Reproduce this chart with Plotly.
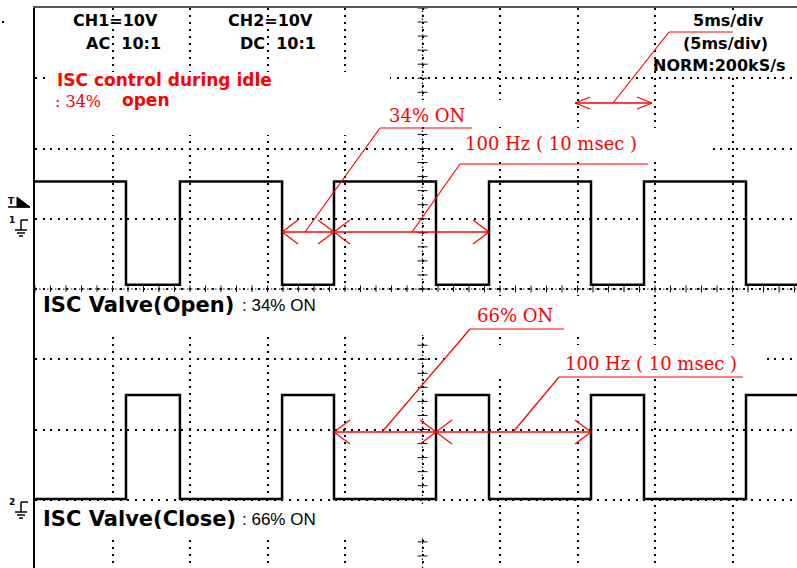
import plotly.graph_objects as go

# ---------------- data read from the screen ----------------
# edge instants (ms) shared by both channels (CH2 is the inverse of CH1)
edge_times_ms = [5.87, 9.35, 15.94, 19.29, 25.87, 29.29, 35.87, 39.29, 45.87]
t_start_ms = 0.0
t_end_ms = 49.16
# levels in screen divisions (0 = centre graticule line)
ch1_high_div = 1.53
ch1_low_div = 0.06
ch2_high_div = -1.51
ch2_low_div = -2.99

# annotation texts
ch_info = ["CH1=10V", "AC  10:1", "CH2=10V", "DC  10:1"]
timebase_info = ["5ms/div", "(5ms/div)", "NORM:200kS/s"]
duty_labels = ["34% ON", "66% ON"]
freq_label = "100 Hz ( 10 msec )"

# ---------------- screen geometry ----------------
W, H = 797, 568
L, T = 35, 8
PXX = 77.5      # px per horizontal division
MS_DIV = 5.0    # ms per division
PXY = 70.25     # px per vertical division
YC = 289        # px of centre line


def dx(px):
    return (px - L) / PXX * MS_DIV


def dy(py):
    return (YC - py) / PXY


def pxp(px):
    return (px - L) / (W - L)


def pyp(py):
    return (H - py) / (H - T)


# ---------------- traces ----------------
t = [t_start_ms] + edge_times_ms + [t_end_ms]
ch1 = []
ch2 = []
for i in range(len(edge_times_ms) + 1):
    hi = (i % 2 == 0)
    ch1.append(ch1_high_div if hi else ch1_low_div)
    ch2.append(ch2_low_div if hi else ch2_high_div)
ch1.append(ch1[-1])
ch2.append(ch2[-1])

fig = go.Figure()
fig.add_trace(go.Scatter(x=t, y=ch1, mode="lines", line=dict(color="black", width=2.5, shape="hv"),
                         hoverinfo="skip", showlegend=False))
fig.add_trace(go.Scatter(x=t, y=ch2, mode="lines", line=dict(color="black", width=2.5, shape="hv"),
                         hoverinfo="skip", showlegend=False))

shapes = []

# centre graticule tick marks (drawn in the 'between' layer)
path = ""
hx = 3.5 / PXY
k = 0
while k * 1.0 <= t_end_ms + 1e-9:
    path += f"M{k*1.0},{-hx} L{k*1.0},{hx} "
    k += 1
hy = 5 * MS_DIV / PXX
v = -4.0
while v <= 4.0 + 1e-9:
    path += f"M{25-hy},{v:.3f} L{25+hy},{v:.3f} "
    v += 0.2
shapes.append(dict(type="path", path=path, xref="x", yref="y", layer="between",
                   line=dict(color="#111", width=1)))
# denser dotted centre lines
shapes.append(dict(type="line", xref="x", yref="y", x0=25, x1=25, y0=dy(H), y1=dy(T), layer="between",
                   line=dict(color="#111", width=1.2, dash="1.5px,2.5px")))
shapes.append(dict(type="line", xref="x", yref="y", x0=0, x1=t_end_ms, y0=0, y1=0, layer="between",
                   line=dict(color="#111", width=1.2, dash="1.5px,2.5px")))

# white text backing boxes
white_boxes = [
    (50, 72, 390, 135), (385, 100, 505, 127), (458, 128, 707, 162),
    (670, 10, 797, 76), (36, 292, 455, 335), (465, 296, 580, 336),
    (445, 345, 762, 374), (36, 504, 455, 538),
]
for x0, y0, x1, y1 in white_boxes:
    shapes.append(dict(type="rect", xref="x", yref="y", x0=dx(x0), x1=dx(x1), y0=dy(y1), y1=dy(y0),
                       fillcolor="white", line=dict(width=0), layer="between"))

RED = "#ff0000"


def red_line(pts):
    for (ax, ay), (bx, by) in zip(pts[:-1], pts[1:]):
        shapes.append(dict(type="line", xref="x", yref="y", x0=dx(ax), y0=dy(ay), x1=dx(bx), y1=dy(by),
                           line=dict(color=RED, width=1.2), layer="above"))


def arrow(x1, x2, y, hpx=16, hpy=12):
    ax_ = hpx / PXX * MS_DIV
    ay_ = hpy / PXY
    shapes.append(dict(type="line", xref="x", yref="y", x0=x1, x1=x2, y0=y, y1=y,
                       line=dict(color=RED, width=1.4), layer="above"))
    for s in (1, -1):
        shapes.append(dict(type="line", xref="x", yref="y", x0=x1, y0=y, x1=x1 + ax_, y1=y + s * ay_,
                           line=dict(color=RED, width=1.2), layer="above"))
        shapes.append(dict(type="line", xref="x", yref="y", x0=x2, y0=y, x1=x2 - ax_, y1=y + s * ay_,
                           line=dict(color=RED, width=1.2), layer="above"))


# CH1 measurement arrows (low time and period)
y1a = dy(232)
arrow(edge_times_ms[2], edge_times_ms[3], y1a)
arrow(edge_times_ms[3], edge_times_ms[5], y1a)
# CH2 measurement arrows
y2a = dy(432)
arrow(edge_times_ms[3], edge_times_ms[4], y2a)
arrow(edge_times_ms[4], edge_times_ms[6], y2a)
# time / div arrow
arrow(dx(575), dx(652), dy(103), hpx=15, hpy=6)

# leader lines
red_line([(613, 103), (669, 32), (733, 32)])
red_line([(305, 232), (380, 128), (472, 128)])
red_line([(412, 232), (460, 164), (648, 164)])
red_line([(382, 432), (470, 329), (564, 329)])
red_line([(513, 432), (559, 377), (743, 377)])


# ground / trigger markers at left (outside the graticule)
def pline(a, b, c, d, w=1.5, col="black"):
    shapes.append(dict(type="line", xref="paper", yref="paper", x0=pxp(a), y0=pyp(b), x1=pxp(c), y1=pyp(d),
                       line=dict(color=col, width=w), layer="above"))


def ground(ytop):
    pline(21, ytop, 28, ytop)
    pline(21, ytop, 21, ytop + 10)
    pline(15, ytop + 10, 27, ytop + 10)
    pline(17, ytop + 13, 25, ytop + 13)
    pline(19, ytop + 16, 23, ytop + 16)


ground(220)
ground(502)
# trigger marker
shapes.append(dict(type="path", xref="paper", yref="paper",
                   path=f"M{pxp(17)},{pyp(197)} L{pxp(30)},{pyp(207)} L{pxp(17)},{pyp(207)} Z",
                   fillcolor="black", line=dict(color="black", width=1), layer="above"))
pline(8, 207, 30, 207)
shapes.append(dict(type="rect", xref="paper", yref="paper", x0=pxp(2), x1=pxp(4), y0=pyp(23), y1=pyp(21),
                   fillcolor="black", line=dict(width=0)))

annotations = []


def txt(s, x, y, size, family, color="black", xanchor="center", bold=False):
    annotations.append(dict(text=f"<b>{s}</b>" if bold else s, x=pxp(x), y=pyp(y), xref="paper", yref="paper",
                            xanchor=xanchor, yanchor="middle", showarrow=False, borderpad=0,
                            font=dict(size=size, family=family, color=color)))


SANSB = "DejaVu Sans"
SERIF = "DejaVu Serif"
THIN = "Liberation Sans"

txt(ch_info[0], 115, 20, 16, SANSB, bold=True)
txt(ch_info[1], 123, 43, 16, SANSB, bold=True)
txt(ch_info[2], 270, 20, 16, SANSB, bold=True)
txt(ch_info[3], 278, 43, 16, SANSB, bold=True)
txt(timebase_info[0], 728, 20, 16, SANSB, bold=True)
txt(timebase_info[1], 725, 43, 16, SANSB, bold=True)
txt(timebase_info[2], 719, 66, 16, SANSB, bold=True)

txt("ISC control during idle", 56, 80, 17, SANSB, color=RED, xanchor="left", bold=True)
txt(": 34%", 54, 102, 16, SERIF, color=RED, xanchor="left")
txt("open", 121, 100, 17, SANSB, color=RED, xanchor="left", bold=True)

txt(duty_labels[0], 427, 115, 18, SERIF, color=RED)
txt(freq_label, 551, 143, 18, SERIF, color=RED)
txt(duty_labels[1], 515, 315, 18, SERIF, color=RED)
txt(freq_label, 651, 363, 18, SERIF, color=RED)

txt("ISC Valve(Open)", 42, 305, 21, SANSB, xanchor="left", bold=True)
txt(": " + duty_labels[0], 241, 305, 17, THIN, xanchor="left")
txt("ISC Valve(Close)", 42, 519, 21, SANSB, xanchor="left", bold=True)
txt(": " + duty_labels[1], 241, 519, 17, THIN, xanchor="left")
txt("T", 11, 201, 9, SANSB, bold=True)
txt("1", 12, 220, 9, SANSB, bold=True)
txt("2", 12, 502, 9, SANSB, bold=True)

fig.update_layout(
    width=W, height=H,
    margin=dict(l=L, r=0, t=T, b=0),
    paper_bgcolor="white", plot_bgcolor="white",
    shapes=shapes, annotations=annotations,
    xaxis=dict(range=[0, t_end_ms], dtick=MS_DIV, tick0=0, showgrid=True, gridcolor="#000",
               gridwidth=1.6, griddash="2px,5px", zeroline=False, showticklabels=False, ticks="",
               showline=True, linecolor="#555", linewidth=2, side="top", fixedrange=True),
    yaxis=dict(range=[dy(H), dy(T)], dtick=1, tick0=0, showgrid=True, gridcolor="#000",
               gridwidth=1.6, griddash="2px,5.7px", zeroline=False, showticklabels=False, ticks="",
               showline=True, linecolor="black", linewidth=2, fixedrange=True),
)

fig.write_html("out.html", post_script="document.body.style.margin='0';",
               config={"displayModeBar": False})
